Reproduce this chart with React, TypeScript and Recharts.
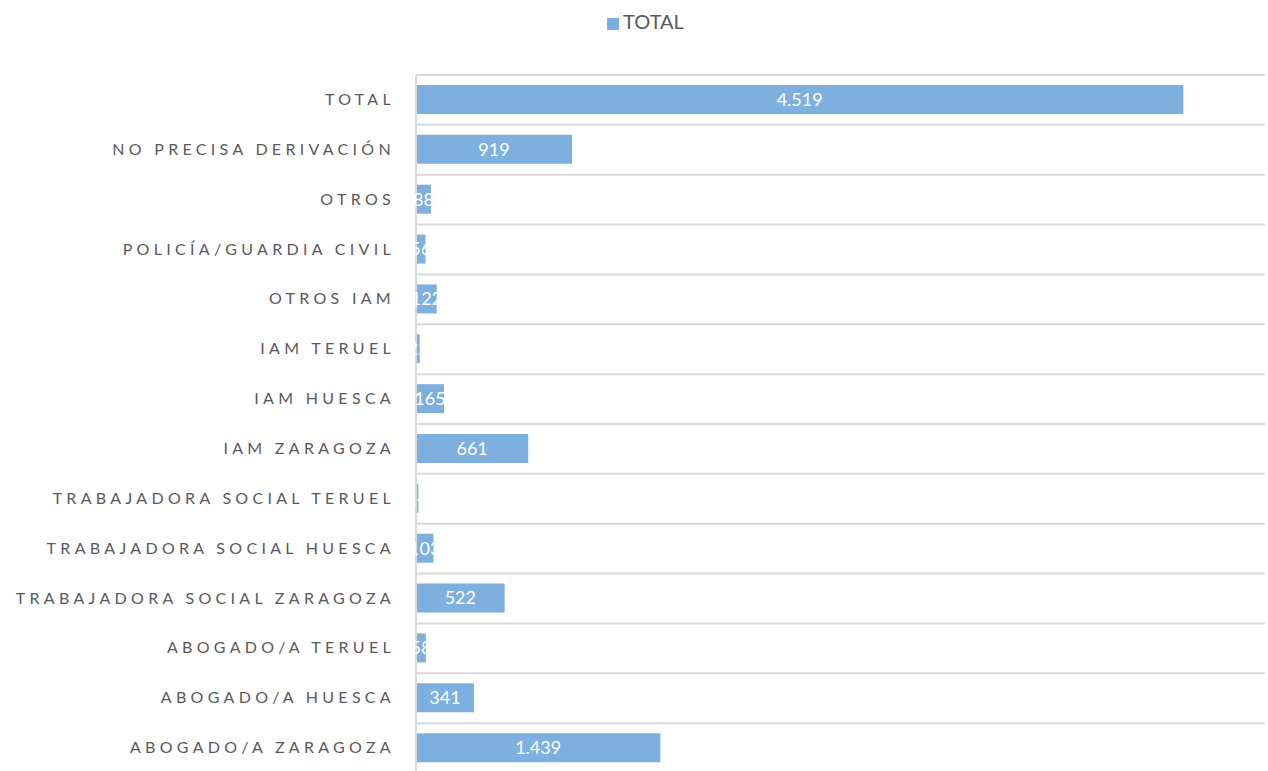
import { BarChart, Bar, XAxis, YAxis, CartesianGrid, Legend, LabelList } from "recharts";

const categories = [
  "TOTAL",
  "NO PRECISA DERIVACIÓN",
  "OTROS",
  "POLICÍA/GUARDIA CIVIL",
  "OTROS IAM",
  "IAM TERUEL",
  "IAM HUESCA",
  "IAM ZARAGOZA",
  "TRABAJADORA SOCIAL TERUEL",
  "TRABAJADORA SOCIAL HUESCA",
  "TRABAJADORA SOCIAL ZARAGOZA",
  "ABOGADO/A TERUEL",
  "ABOGADO/A HUESCA",
  "ABOGADO/A ZARAGOZA",
];

const totals = [4519, 919, 88, 56, 122, 22, 165, 661, 14, 103, 522, 58, 341, 1439];

const data = categories.map((name, i) => ({ name, TOTAL: totals[i] }));

const fmt = (v: any) => String(v).replace(/\B(?=(\d{3})+(?!\d))/g, ".");

function CatTick(props: any) {
  const { x, y, payload } = props;
  return (
    <text
      x={x}
      y={y}
      dy={5}
      textAnchor="end"
      fill="#595959"
      fontSize={16}
      fontFamily="Lato, 'Open Sans', sans-serif"
      style={{ letterSpacing: "4.3px" }}
    >
      {payload.value}
    </text>
  );
}

export default function App() {
  const rows = categories.length;
  return (
    <div style={{ position: "absolute", left: 0, top: 0, background: "#fff" }}>
      <BarChart
        width={1268}
        height={775}
        data={data}
        layout="vertical"
        margin={{ top: 51, right: 3, left: 0, bottom: 2 }}
      >
        <CartesianGrid
          vertical={false}
          stroke="#d9d9d9"
          strokeWidth={2}
          horizontalCoordinatesGenerator={({ offset }: any) =>
            Array.from({ length: rows + 1 }, (_, i) => offset.top + (i * offset.height) / rows)
          }
        />
        <XAxis type="number" domain={[0, 5000]} hide />
        <YAxis
          type="category"
          dataKey="name"
          width={416}
          axisLine={{ stroke: "#d9d9d9", strokeWidth: 2 }}
          tickLine={false}
          tick={<CatTick />}
          tickMargin={15}
          interval={0}
        />
        <Legend
          verticalAlign="top"
          align="center"
          iconType="square"
          iconSize={12}
          wrapperStyle={{ top: 9, left: 18, fontFamily: "Lato, 'Open Sans', sans-serif", fontSize: 20 }}
          formatter={(v: any) => <span style={{ color: "#595959" }}>{v}</span>}
        />
        <Bar dataKey="TOTAL" fill="#7dafdf" barSize={29} isAnimationActive={false}>
          <LabelList
            dataKey="TOTAL"
            position="center"
            formatter={fmt}
            fill="#ffffff"
            fontSize={18}
            fontFamily="Lato, 'Open Sans', sans-serif"
          />
        </Bar>
      </BarChart>
    </div>
  );
}
